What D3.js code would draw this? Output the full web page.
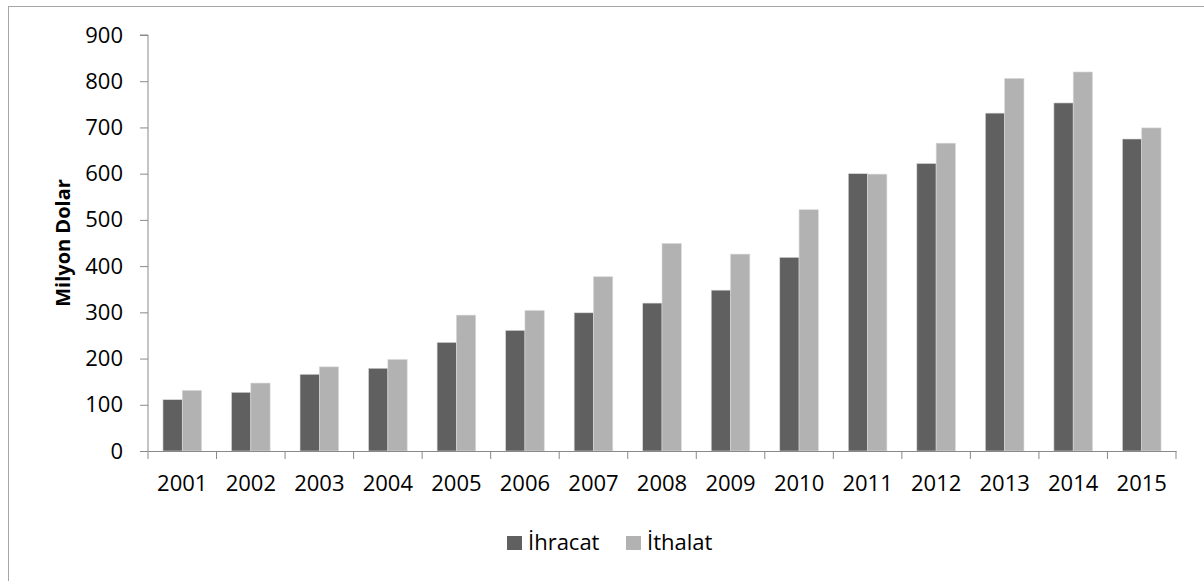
<!DOCTYPE html>
<html>
<head>
<meta charset="utf-8">
<script src="https://cdn.jsdelivr.net/npm/d3@7"></script>
<style>
  body { margin: 0; background: #fff; }
  svg { display: block; font-family: "Open Sans", sans-serif; }
</style>
</head>
<body>
<svg id="chart" width="1204" height="581"></svg>
<script>
const years = ['2001', '2002', '2003', '2004', '2005', '2006', '2007', '2008',
    '2009', '2010', '2011', '2012', '2013', '2014', '2015'];
const ihracat = [111, 127, 166, 179, 235, 261, 299, 320, 348, 419, 600, 622, 731, 753, 675];
const ithalat = [131, 147, 182, 198, 294, 304, 377, 449, 426, 522, 599, 666, 806, 820, 699];
const seriesNames = ['İhracat', 'İthalat'];
const colors = ['#606060', '#b2b2b2'];
const yTicks = [0, 100, 200, 300, 400, 500, 600, 700, 800, 900];

const svg = d3.select('#chart');
const margin = { left: 148, right: 28, top: 35, bottom: 130 };
const width = 1204, height = 581;

// outer frame
svg.append('rect')
    .attr('x', 8.5).attr('y', 6.5)
    .attr('width', 1210).attr('height', 600)
    .attr('fill', 'none').attr('stroke', '#a6a6a6');

const x = d3.scaleBand()
    .domain(years)
    .range([margin.left, width - margin.right]);

const xInner = d3.scaleBand()
    .domain(seriesNames)
    .range([0, x.bandwidth()])
    .paddingOuter(0.775);

const y = d3.scaleLinear()
    .domain([0, 900])
    .range([451, 35]);

const rows = years.map((yr, i) => ({ year: yr, values: [ihracat[i], ithalat[i]] }));

const groups = svg.append('g').selectAll('g')
    .data(rows)
    .join('g')
    .attr('transform', d => `translate(${x(d.year)},0)`);

groups.selectAll('rect')
    .data(d => d.values.map((v, j) => ({ key: seriesNames[j], value: v, j })))
    .join('rect')
    .attr('x', d => xInner(d.key))
    .attr('width', xInner.bandwidth())
    .attr('y', d => y(d.value))
    .attr('height', d => y(0) - y(d.value))
    .attr('fill', d => colors[d.j])
    .attr('stroke', '#d9d9d9')
    .attr('stroke-width', 0.6);

// y axis
const yAxis = svg.append('g')
    .attr('transform', `translate(${margin.left},0)`)
    .call(d3.axisLeft(y).tickValues(yTicks).tickSize(8).tickPadding(17));
yAxis.select('.domain').attr('stroke', '#898989').attr('d', `M-8,${y(900)}H0V${y(0)}`);
yAxis.selectAll('.tick line').attr('stroke', '#898989');
yAxis.selectAll('text').attr('font-size', 22).attr('fill', '#000')
    .attr('font-family', '"Open Sans", sans-serif');

// x axis
const xAxis = svg.append('g')
    .attr('transform', `translate(0,${y(0)})`)
    .call(d3.axisBottom(x).tickSize(0).tickPadding(24));
xAxis.select('.domain').attr('stroke', '#898989');
xAxis.selectAll('text').attr('font-size', 22).attr('fill', '#000')
    .attr('font-family', '"Open Sans", sans-serif');

// category boundary ticks
const bounds = years.map(yr => x(yr)).concat([x(years[years.length - 1]) + x.bandwidth()]);
svg.append('g').selectAll('line')
    .data(bounds)
    .join('line')
    .attr('x1', d => d).attr('x2', d => d)
    .attr('y1', y(0)).attr('y2', y(0) + 8)
    .attr('stroke', '#898989');

// y title
svg.append('text')
    .attr('transform', `translate(70,${(y(0) + y(900)) / 2}) rotate(-90)`)
    .attr('text-anchor', 'middle')
    .attr('font-size', 20)
    .attr('font-weight', 'bold')
    .text('Milyon Dolar');

// legend
const legendX = [507, 626];
const legend = svg.append('g').selectAll('g')
    .data(seriesNames)
    .join('g')
    .attr('transform', (d, i) => `translate(${legendX[i]},536)`);
legend.append('rect')
    .attr('width', 15).attr('height', 14)
    .attr('fill', (d, i) => colors[i]);
legend.append('text')
    .attr('x', 21).attr('y', 14)
    .attr('font-size', 22)
    .text(d => d);
</script>
</body>
</html>
